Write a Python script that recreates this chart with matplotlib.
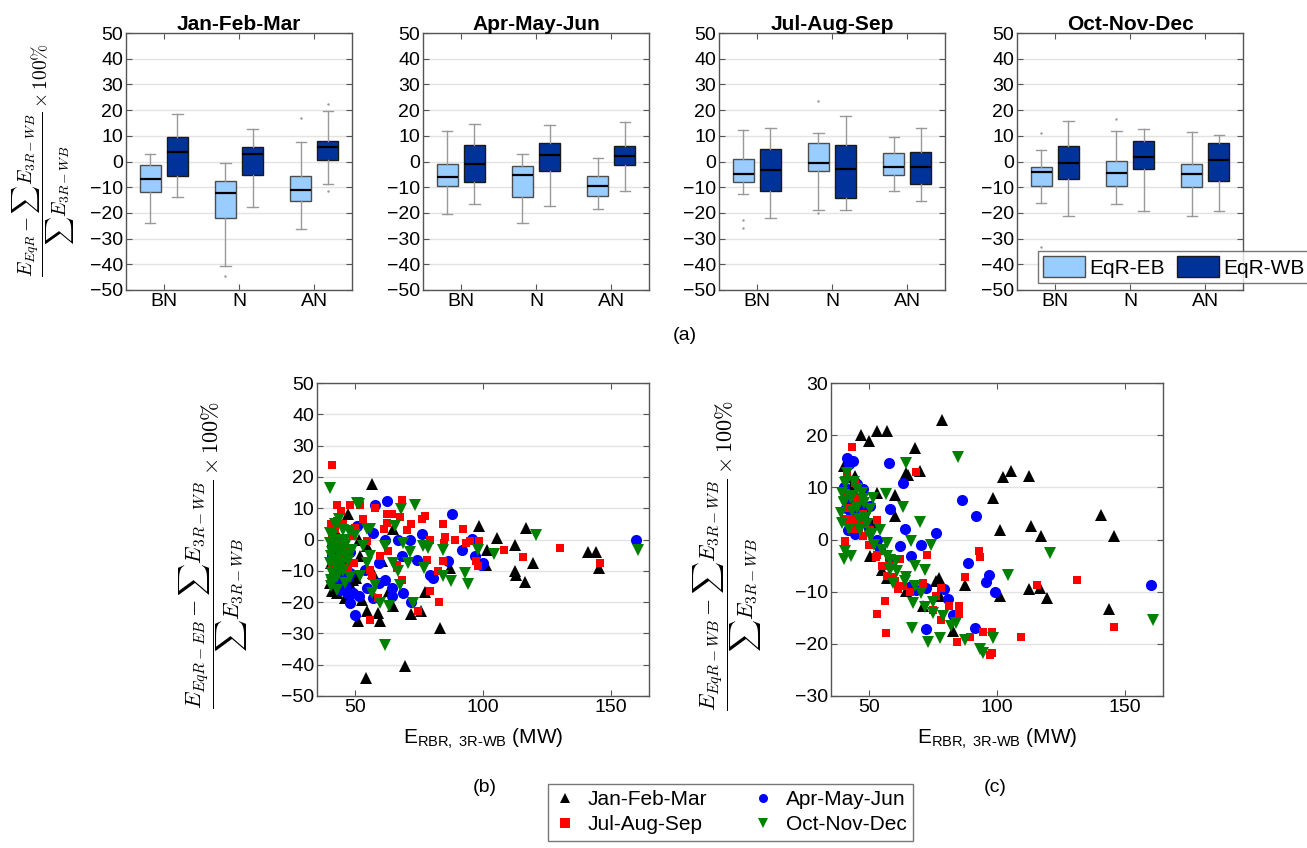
import matplotlib
matplotlib.use('Agg')
import matplotlib.pyplot as plt
from matplotlib.patches import Patch
from matplotlib.lines import Line2D

plt.rcParams['font.family'] = ['Liberation Sans', 'DejaVu Sans']
plt.rcParams['mathtext.fontset'] = 'custom'
plt.rcParams['mathtext.rm'] = 'Liberation Sans'
plt.rcParams['mathtext.it'] = 'Liberation Sans:italic'

# ---------------- data ----------------
seasons = ['Jan-Feb-Mar', 'Apr-May-Jun', 'Jul-Aug-Sep', 'Oct-Nov-Dec']
categories = ['BN', 'N', 'AN']

# EqR-EB box statistics  [season][category]
eb_whislo = [[-24.0, -40.6, -26.1], [-20.5, -23.8, -18.5], [-12.6, -18.8, -11.5], [-16.2, -16.5, -21.4]]
eb_q1     = [[-11.7, -21.8, -15.3], [-9.7, -14.0, -13.6], [-8.1, -3.8, -5.3], [-9.4, -9.4, -10.1]]
eb_med    = [[-6.9, -12.1, -10.9], [-5.9, -5.4, -9.6], [-4.8, -0.4, -2.2], [-4.0, -4.3, -4.9]]
eb_q3     = [[-1.4, -7.5, -5.6], [-0.8, -1.8, -5.7], [0.8, 7.2, 3.5], [-2.2, 0.1, -0.8]]
eb_whishi = [[3.1, -0.5, 7.4], [11.9, 3.0, 1.5], [12.4, 11.2, 9.6], [4.3, 11.8, 11.4]]
eb_fliers = [[[], [-44.5], [17.1]], [[], [], []], [[-22.7, -25.8], [23.4, -20.2], []], [[10.9, -33.4], [16.5], []]]

# EqR-WB box statistics  [season][category]
wb_whislo = [[-13.8, -17.7, -8.8], [-16.7, -17.2, -11.5], [-22.0, -18.8, -15.5], [-21.4, -19.1, -19.2]]
wb_q1     = [[-5.8, -5.2, 0.4], [-8.0, -3.6, -1.3], [-11.6, -14.2, -8.7], [-6.8, -3.0, -7.4]]
wb_med    = [[3.8, 2.9, 5.5], [-0.8, 2.7, 2.3], [-3.5, -3.1, -2.2], [-0.5, 1.8, 0.6]]
wb_q3     = [[9.7, 5.6, 8.1], [6.3, 7.1, 6.1], [4.7, 6.5, 3.6], [6.2, 7.8, 7.1]]
wb_whishi = [[18.3, 12.7, 19.5], [14.7, 14.3, 15.2], [13.0, 17.7, 12.9], [15.8, 12.7, 10.5]]
wb_fliers = [[[], [], [22.3, -11.6]], [[], [], []], [[], [], []], [[], [], []]]

# Scatter (b): EqR-EB error vs E_RBR,3R-WB
b_jfm_x = [56.5, 47, 98.4, 105.5, 117, 112.6, 101.6, 101.3, 87, 112.5, 113, 116.6, 119.5, 141, 144.4, 145.5,
           83, 69.4, 54.3, 51, 54.5, 59, 59.6, 64.9, 72, 75.8, 77.4, 41, 46, 48.7, 52.6, 50.1, 52, 54.5,
           51.3, 64.9, 60.3, 57, 63, 43, 40.4, 40,
           41, 42, 44, 46, 47, 45, 49, 43]
b_jfm_y = [17.7, 8, 4.3, 0.5, 3.7, -1.9, -3.2, -8, -9.1, -10.2, -11.2, -13.7, -7.5, -4.1, -4.1, -9.1,
           -28.2, -40.5, -44.3, -26, -23, -23.6, -26, -21.4, -23.8, -23, -16.9, -16.6, -18.8, -15.5, -19.3, -12.3, -5.4, -2.1,
           0, 3.2, -7, -10.7, -16.6, 0, -7.5, -14,
           -12, -9, -15, -11, -6, -3, -13, -17]
b_amj_x = [62.3, 57.8, 88, 76, 95.5, 160, 91.6, 96.8, 99.4, 86.4, 79.2, 80.5, 68.8, 72, 61.7, 64.3, 64.3,
           51.3, 48, 50, 57.1, 46.8, 45.5, 44.8, 43.5, 42.2, 50.6, 57.1, 61.7, 66.9, 71.4, 68.2, 59.1, 53.9,
           48, 40.9, 54.5, 59.1, 74, 100,
           41, 42, 43, 44, 46, 47, 45, 48, 44, 49, 42]
b_amj_y = [12.3, 11, 8.2, 1.6, 0.2, -0.2, -3.2, -5.4, -8, -6.8, -11.3, -12.3, -17.1, -20.1, -12.9, -15.5, -18.2,
           -18.2, -20.4, -24.1, -18.8, -17.1, -14.5, -12.3, -7.5, -3.2, 4.3, 2.1, 0, 0, 0, -5.4, -7.5, -9.6,
           -10.7, -2.1, -15.5, -13.9, -6.4, -7.5,
           -5, -9, -13, -16, -15, -12, -8, -4, -1, -17, 1]
b_jas_x = [41, 43, 48, 51.9, 68.2, 57.8, 44.4, 62.3, 64.3, 77.1, 76, 67.5, 53, 72, 84.2, 62.3, 61.3, 92.2,
           70.1, 85.1, 79.2, 89, 93.5, 94.8, 98.4, 84.6, 108.1, 130.2, 115.6, 97.4, 98, 145.8, 66.2, 68.2,
           66.2, 82.5, 84.2, 78, 79.2, 82.8, 74.7, 58.7, 55.8, 56.5, 59.7, 62.9, 48, 44.8, 40.3, 42.2, 46.1,
           50, 54.5, 49.4, 55.8,
           41, 43, 44, 46, 47, 41, 45, 49, 43]
b_jas_y = [23.8, 11, 11, 11, 12.5, 10, 9.1, 8, 8, 7.5, 6.4, 7.2, 6.4, 4.8, 4.8, 5.4, 3.2, 3.4,
           2.9, 0.9, -0.3, -0.3, -1.1, -0.6, -0.6, -1.1, -3.5, -2.8, -5.7, -7, -8.4, -7.5, -9.1, -12.9,
           -8, -10.2, -7, -6.4, -16.4, -20.1, -22.8, -18.8, -25.7, -11.8, -5.4, -3.7, -2.7, -1.1, 4.8, 3.2, -5.4,
           3.7, -0.5, -7.5, -9.6,
           2, -3, -7, -1, -9, -8, 5, 1, 6]
b_ond_x = [40, 50.6, 51.3, 73.4, 67.9, 43.5, 65.7, 54.5, 55.8, 120.8, 47.4, 50, 61.7, 68.8, 76.6, 78.6, 84.4,
           98, 104.5, 160.8, 71.4, 64.7, 66.6, 77, 84.2, 87.4, 93, 94.2, 70.8, 67.5, 57.8, 56.5, 59.7, 63,
           72.7, 61.7, 40.3, 41, 39.9, 40.3, 41.6, 42.9, 39.9, 44.2, 44.8, 46.8, 48.7, 46.1, 52, 53.2, 55.8,
           54.5, 41, 42.2, 43.5, 40.3,
           40, 41, 42, 43, 41, 44, 45, 46, 47, 48, 45, 42, 43, 46]
b_ond_y = [16.3, 11.8, 11.4, 11, 9.6, 6.4, 4.3, 3.2, 3.4, 1.4, 2.7, 1.3, -2.1, -1.1, -2.1, -2.7, -3.2,
           -3.2, -4.6, -3.4, -4.1, -7.5, -10.2, -9.1, -11.8, -13.2, -10.7, -14.1, -7.5, -14.5, -14.5, -17.1, -20.4, -21.4,
           -20.4, -33.8, -15, -10.7, -7.5, -5.4, -2.1, 0, 2.1, -3.2, -7.5, -5.4, -3.2, 0, -11.8, -2.1, -5.4,
           -7.5, 1.1, -6.4, -9.6, -12.8,
           -1, -4, -8, -12, -14, -5, -10, -2, -7, -12, 3, 5, -16, -14]

# Scatter (c): EqR-WB error vs E_RBR,3R-WB
c_jfm_x = [46.8, 49.7, 52.9, 56.8, 78.6, 67.8, 69.7, 64.3, 65.2, 102.2, 105.5, 112.6, 98.3, 60, 52.9, 60,
           140.9, 101.3, 113.2, 117.1, 145.7, 44.4, 39.9, 112.6, 116.8, 119.5, 101, 87.3, 77.3, 76.2, 144,
           82.7, 71, 77.5, 64.5, 54.8, 50.3, 56.8,
           42, 44, 45, 47, 49, 51, 43]
c_jfm_y = [20, 18.8, 20.8, 20.8, 22.9, 17.5, 13.1, 12.7, 12.4, 11.9, 13.1, 12.1, 8, 8.5, 9, 4.5,
           4.7, 1.9, 2.6, 0.6, 0.6, 12.2, 14.1, -9.5, -9.3, -11.2, -10.9, -8.7, -7.4, -8, -13.3,
           -17.5, -12.7, -10.9, -9.9, -5.8, -3.2, -7.4,
           12, 9, 7, 6, 4, 3, 10]
c_amj_x = [41.2, 43.5, 42.2, 57.8, 63, 47.4, 45.3, 86.4, 91.8, 50.3, 58.1, 63.9, 76, 70.4, 88.6, 97, 95.7,
           99.2, 160.3, 66.2, 62, 79.2, 80.8, 72.3, 72.3, 91.4, 82.7, 44.4, 41.8, 54.2, 58.1, 66.5, 68.4,
           42, 43, 44, 45, 46, 48, 40, 41, 50, 53]
c_amj_y = [15.7, 15.1, 14.4, 14.6, 10.9, 9.7, 10.6, 7.5, 4.6, 6.4, 5.8, 2.1, 1.3, -1, -4.6, -6.9, -8.1,
           -10.1, -8.7, -3.1, -1.3, -9.4, -11.4, -9.3, -17.1, -16.9, -14.4, 1, 1.9, -1.9, -3.8, -9, -9.6,
           8, 5, 7, 4, 6, 5, 10, 6, 2, 0]
c_jas_x = [43.1, 68.2, 44.4, 41.2, 45.1, 47.7, 52.9, 40.6, 92.9, 93.5, 72.7, 52.5, 87.4, 78.2, 115.6, 131.2,
           56.1, 53.1, 56.5, 77.9, 74.9, 81.4, 85.1, 85.3, 89.5, 84.4, 94.4, 97.9, 97.3, 97.9, 109.4, 145.7,
           61.3, 59.4, 62.2, 58.1, 47.7, 50.3, 42.5, 45.7, 71, 76.2,
           41, 42, 43, 44, 45, 46, 48, 41, 50, 53, 55, 57, 60, 63, 66]
c_jas_y = [17.8, 13, 10.9, 12.8, 7, 4.8, 3.8, -0.2, -2.2, -3.3, -3, -3.3, -7.1, -9.3, -8.8, -7.7,
           -11.7, -14.2, -18, -15.4, -13.5, -12.7, -12.7, -14.2, -18.6, -19.6, -17.7, -17.8, -22.1, -21.7, -18.6, -16.7,
           -9.5, -7.1, -3.8, -5.1, 0.6, 1.9, 3.8, 3.2, -8.3, -10.9,
           9, 6, 2, 4, 8, 2, 3, 4, -1, -3, -5, -7, -8, -9, -10]
c_ond_x = [84.9, 64.3, 63, 69.7, 56.5, 51.6, 66.2, 74.3, 120.6, 104.2, 160.9, 98.3, 93.4, 94.7, 87.3, 73,
           77.5, 66.9, 81.8, 84, 78.8, 67.1, 74.9, 71.7, 67.8, 60.6, 56.8, 54.2, 48.3, 46.4, 40.5, 42.7,
           39.9, 39.2, 39.9, 40.5, 41.2, 42.5, 45.1, 47.7, 50.3, 43.1, 39.2, 59.4, 64.5, 70.4, 58.1, 50.3, 56.8,
           39, 40, 41, 42, 43, 44, 45, 46, 47, 48, 49, 51, 52, 55, 58, 61, 64, 68, 72, 75]
c_ond_y = [15.8, 14.6, 6.2, 3.3, 8.8, 8, -0.2, -1, -2.6, -6.9, -15.4, -18.9, -21, -21.7, -19.2, -19.6,
           -18.9, -17, -16.5, -16, -14.7, -12.2, -11.9, -5.8, -5.1, -4.2, -3.2, 1.9, 4.2, 1.9, -2.2, -3.2,
           -3.8, 3.2, 7.1, 10.9, 12.8, 8.3, 9.6, 7.7, 5.8, 5.4, 9, -8.3, -7.1, -10.3, -5.8, 0.6, -0.6,
           5, 7, 11, 2, 8, 11, 6, 4, 9, 7, 3, 1, -1, -2, -4, -6, -8, -9, -13, -14]

# ---------------- styling ----------------
LIGHT = '#99ccff'
DARK = '#003399'
SPINE = '#555555'
GRID = '#e3e3e3'
W, H = 1307, 848
TICK_FS = 14

fig = plt.figure(figsize=(W / 100, H / 100), dpi=100)


def ax_at(left, top, width, height):
    return fig.add_axes([left / W, 1 - (top + height) / H, width / W, height / H])


def style(ax):
    for s in ax.spines.values():
        s.set_color(SPINE)
        s.set_linewidth(1.0)
    ax.tick_params(direction='in', top=True, right=True, labelsize=TICK_FS, length=4,
                   color=SPINE, pad=2)
    ax.yaxis.grid(True, color=GRID, lw=1.0)
    ax.set_axisbelow(True)


def stats(whislo, q1, med, q3, whishi, fl):
    return dict(whislo=whislo, q1=q1, med=med, q3=q3, whishi=whishi, fliers=fl)


lefts = [126, 423, 719, 1017]
for k, season in enumerate(seasons):
    ax = ax_at(lefts[k], 33, 226, 257)
    style(ax)
    pos = [1, 2, 3]
    for lo, a, m, b, hi, fl, col, ec, off in [
        (eb_whislo, eb_q1, eb_med, eb_q3, eb_whishi, eb_fliers, LIGHT, '#4d4d4d', -0.18),
        (wb_whislo, wb_q1, wb_med, wb_q3, wb_whishi, wb_fliers, DARK, '#1a1a1a', 0.18)]:
        st = [stats(lo[k][i], a[k][i], m[k][i], b[k][i], hi[k][i], fl[k][i]) for i in range(3)]
        ax.bxp(st, positions=[p + off for p in pos], widths=0.28, patch_artist=True,
               boxprops=dict(facecolor=col, edgecolor=ec, lw=1.0),
               medianprops=dict(color='black', lw=1.6),
               whiskerprops=dict(color='#999999', lw=1.0),
               capprops=dict(color='#999999', lw=1.0),
               flierprops=dict(marker='.', markersize=1.5, markerfacecolor='#999999',
                               markeredgecolor='#999999'),
               manage_ticks=False)
    ax.set_xlim(0.5, 3.5)
    ax.set_ylim(-50, 50)
    ax.set_yticks(range(-50, 51, 10))
    ax.set_xticks(pos)
    ax.set_xticklabels(categories)
    ax.set_title(season, fontsize=15, fontweight='bold', pad=2)

fig.text(44 / W, 1 - 160 / H,
         r'$\dfrac{E_{EqR}-\sum E_{3R-WB}}{\sum E_{3R-WB}}\times 100\%$',
         rotation=90, ha='center', va='center', fontsize=14, math_fontfamily='cm')

fig.legend(handles=[Patch(facecolor=LIGHT, edgecolor='#4d4d4d'),
                    Patch(facecolor=DARK, edgecolor='#1a1a1a')],
           labels=['EqR-EB', 'EqR-WB'], ncol=2, loc='lower left',
           bbox_to_anchor=(1038 / W, 1 - 283 / H), fontsize=15, frameon=True,
           fancybox=False, edgecolor=SPINE, handlelength=2.0, handleheight=1.2,
           handletextpad=0.2, columnspacing=0.6, borderpad=0.25, borderaxespad=0)

fig.text(685 / W, 1 - 335 / H, '(a)', ha='center', va='center', fontsize=14)

# ---------------- scatter panels ----------------
series_style = [
    ('Jan-Feb-Mar', '^', 'black', 8.5),
    ('Apr-May-Jun', 'o', 'blue', 8),
    ('Jul-Aug-Sep', 's', 'red', 6),
    ('Oct-Nov-Dec', 'v', 'green', 8.5),
]
b_data = [(b_jfm_x, b_jfm_y), (b_amj_x, b_amj_y), (b_jas_x, b_jas_y), (b_ond_x, b_ond_y)]
c_data = [(c_jfm_x, c_jfm_y), (c_amj_x, c_amj_y), (c_jas_x, c_jas_y), (c_ond_x, c_ond_y)]

for left, data, ylim, yt, lab_x, tag, tag_x, ylab in [
        (317, b_data, (-50, 50), range(-50, 51, 10), 214, '(b)', 485,
         r'$\dfrac{E_{EqR-EB}-\sum E_{3R-WB}}{\sum E_{3R-WB}}\times 100\%$'),
        (831, c_data, (-30, 30), range(-30, 31, 10), 728, '(c)', 995,
         r'$\dfrac{E_{EqR-WB}-\sum E_{3R-WB}}{\sum E_{3R-WB}}\times 100\%$')]:
    ax = ax_at(left, 383, 332, 313)
    style(ax)
    for (name, mk, col, ms), (xs, ys) in zip(series_style, data):
        ax.plot(xs, ys, linestyle='none', marker=mk, color=col, markersize=ms,
                markeredgewidth=0)
    ax.set_xlim(35, 165)
    ax.set_ylim(*ylim)
    ax.set_yticks(list(yt))
    ax.set_xticks([50, 100, 150])
    ax.set_xlabel(r'E$_{\mathrm{RBR,\ 3R\text{-}WB}}$ (MW)', fontsize=15, labelpad=8)
    fig.text(lab_x / W, 1 - 555 / H, ylab, rotation=90, ha='center', va='center',
             fontsize=16, math_fontfamily='cm')
    fig.text(tag_x / W, 1 - 787 / H, tag, ha='center', va='center', fontsize=14)

handles = [Line2D([], [], linestyle='none', marker=mk, color=col, markersize=6.5,
                  markeredgewidth=0) for (_, mk, col, _) in series_style]
labels = [s[0] for s in series_style]
order = [0, 2, 1, 3]
fig.legend([handles[i] for i in order], [labels[i] for i in order], ncol=2,
           loc='upper left', bbox_to_anchor=(548 / W, 1 - 784 / H), fontsize=15,
           frameon=True, fancybox=False, edgecolor=SPINE, handlelength=1.0,
           handletextpad=0.6, columnspacing=2.2, borderpad=0.3, labelspacing=0.3,
           borderaxespad=0)

fig.savefig('out.png', dpi=100)
